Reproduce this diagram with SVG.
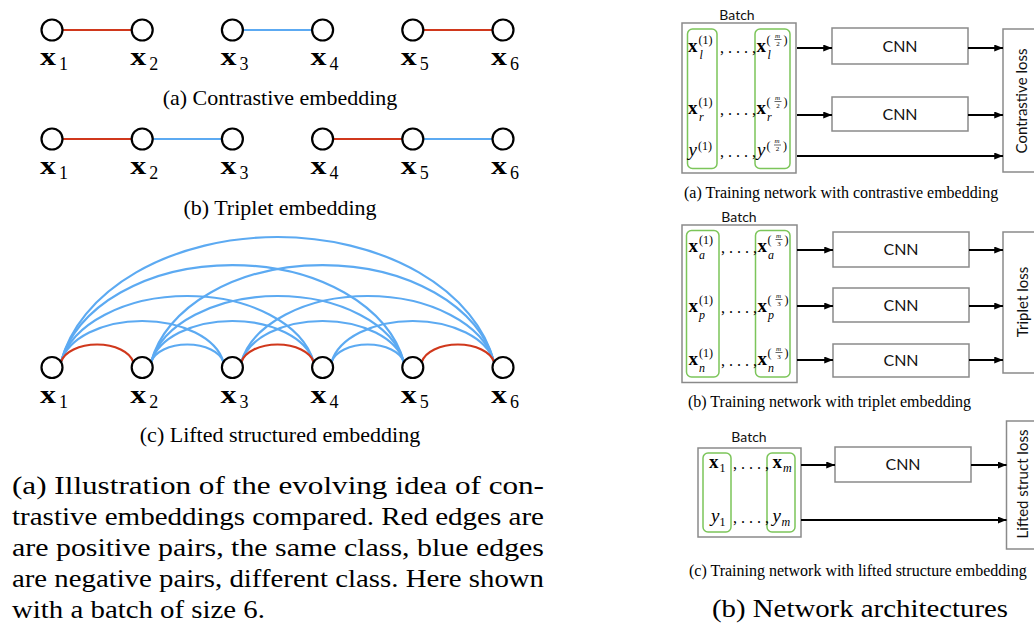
<svg xmlns="http://www.w3.org/2000/svg" width="1034" height="624" viewBox="0 0 1034 624">
  <style>
    .ser { font-family: "Liberation Serif", "Times New Roman", serif; fill: #000; }
    .sans { font-family: Lato, "Open Sans", sans-serif; fill: #111; }
    .cap { font-size: 22px; }
    .capr { font-size: 16px; }
    .cm { font-size: 26px; }
    .bx { font-size: 26px; font-weight: bold; }
    .sd { font-size: 18px; }
    .node circle { fill: #fff; stroke: #000; stroke-width: 2.2; }
    .pos { fill: none; stroke: #d0381c; stroke-width: 2.2; }
    .neg { fill: none; stroke: #5caaf2; stroke-width: 2.2; }
    .gbox { fill: #fff; stroke: #8a8a8a; stroke-width: 1.5; }
    .grp { fill: none; stroke: #7cc55a; stroke-width: 1.5; }
    .arrow { fill: none; stroke: #000; stroke-width: 2; marker-end: url(#ah); }
    .mx { font-size: 19px; font-weight: bold; }
    .mi { font-size: 19px; font-style: italic; }
    .ms { font-size: 12px; }
    .msi { font-size: 12px; font-style: italic; }
    .mf { font-size: 7px; font-style: italic; }
    .mfn { font-size: 7px; }
    .dots { font-size: 16px; }
    .frac { stroke: #000; stroke-width: 0.6; }
    .cnn { font-size: 16px; text-anchor: middle; }
    .batch { font-size: 14px; text-anchor: middle; }
    .loss { font-size: 15px; text-anchor: middle; }
  </style>
  <defs>
    <marker id="ah" viewBox="0 0 10 8" refX="10" refY="4" markerWidth="9" markerHeight="7" markerUnits="userSpaceOnUse" orient="auto">
      <path d="M0,0 L10,4 L0,8 z" fill="#000"/>
    </marker>
  </defs>

  <rect width="1034" height="624" fill="#fff"/>

  <!-- (a) contrastive pairs -->
  <g id="contrastive">
    <g id="contrastive-edges">
      <line class="pos" x1="62.5" y1="30" x2="131.7" y2="30"/>
      <line class="neg" x1="242.9" y1="30" x2="312.1" y2="30"/>
      <line class="pos" x1="423.3" y1="30" x2="492.5" y2="30"/>
    </g>
    <g id="c-x1" class="node"><circle cx="52" cy="30" r="10.5"/><text class="ser bx" x="40" y="65" textLength="16" lengthAdjust="spacingAndGlyphs">x</text><text class="ser sd" x="59" y="70">1</text></g>
    <g id="c-x2" class="node"><circle cx="142.2" cy="30" r="10.5"/><text class="ser bx" x="130.2" y="65" textLength="16" lengthAdjust="spacingAndGlyphs">x</text><text class="ser sd" x="149.2" y="70">2</text></g>
    <g id="c-x3" class="node"><circle cx="232.4" cy="30" r="10.5"/><text class="ser bx" x="220.4" y="65" textLength="16" lengthAdjust="spacingAndGlyphs">x</text><text class="ser sd" x="239.4" y="70">3</text></g>
    <g id="c-x4" class="node"><circle cx="322.6" cy="30" r="10.5"/><text class="ser bx" x="310.6" y="65" textLength="16" lengthAdjust="spacingAndGlyphs">x</text><text class="ser sd" x="329.6" y="70">4</text></g>
    <g id="c-x5" class="node"><circle cx="412.8" cy="30" r="10.5"/><text class="ser bx" x="400.8" y="65" textLength="16" lengthAdjust="spacingAndGlyphs">x</text><text class="ser sd" x="419.8" y="70">5</text></g>
    <g id="c-x6" class="node"><circle cx="503" cy="30" r="10.5"/><text class="ser bx" x="491" y="65" textLength="16" lengthAdjust="spacingAndGlyphs">x</text><text class="ser sd" x="510" y="70">6</text></g>
    <text class="ser cap" x="280" y="105" text-anchor="middle">(a) Contrastive embedding</text>
  </g>

  <!-- (b) triplets -->
  <g id="triplet">
    <g id="triplet-edges">
      <line class="pos" x1="62.5" y1="139" x2="131.7" y2="139"/>
      <line class="neg" x1="152.7" y1="139" x2="221.9" y2="139"/>
      <line class="pos" x1="333.1" y1="139" x2="402.3" y2="139"/>
      <line class="neg" x1="423.3" y1="139" x2="492.5" y2="139"/>
    </g>
    <g id="t-x1" class="node"><circle cx="52" cy="139" r="10.5"/><text class="ser bx" x="40" y="173.5" textLength="16" lengthAdjust="spacingAndGlyphs">x</text><text class="ser sd" x="59" y="178.5">1</text></g>
    <g id="t-x2" class="node"><circle cx="142.2" cy="139" r="10.5"/><text class="ser bx" x="130.2" y="173.5" textLength="16" lengthAdjust="spacingAndGlyphs">x</text><text class="ser sd" x="149.2" y="178.5">2</text></g>
    <g id="t-x3" class="node"><circle cx="232.4" cy="139" r="10.5"/><text class="ser bx" x="220.4" y="173.5" textLength="16" lengthAdjust="spacingAndGlyphs">x</text><text class="ser sd" x="239.4" y="178.5">3</text></g>
    <g id="t-x4" class="node"><circle cx="322.6" cy="139" r="10.5"/><text class="ser bx" x="310.6" y="173.5" textLength="16" lengthAdjust="spacingAndGlyphs">x</text><text class="ser sd" x="329.6" y="178.5">4</text></g>
    <g id="t-x5" class="node"><circle cx="412.8" cy="139" r="10.5"/><text class="ser bx" x="400.8" y="173.5" textLength="16" lengthAdjust="spacingAndGlyphs">x</text><text class="ser sd" x="419.8" y="178.5">5</text></g>
    <g id="t-x6" class="node"><circle cx="503" cy="139" r="10.5"/><text class="ser bx" x="491" y="173.5" textLength="16" lengthAdjust="spacingAndGlyphs">x</text><text class="ser sd" x="510" y="178.5">6</text></g>
    <text class="ser cap" x="280" y="215" text-anchor="middle">(b) Triplet embedding</text>
  </g>

  <!-- (c) lifted structure: every pair in the batch, elliptical arcs -->
  <g id="lifted">
    <g id="lifted-edges">
      <path class="neg" d="M61,362 A82.45,49.61 0 0 1 223.4,362"/>
      <path class="neg" d="M61,362 A128.25,79.86 0 0 1 313.6,362"/>
      <path class="neg" d="M61,362 A174.05,117.37 0 0 1 403.8,362"/>
      <path class="neg" d="M61,362 A219.84,151.25 0 0 1 494,362"/>
      <path class="neg" d="M151.2,362 A36.66,21.18 0 0 1 223.4,362"/>
      <path class="neg" d="M151.2,362 A82.45,49.61 0 0 1 313.6,362"/>
      <path class="neg" d="M151.2,362 A128.25,79.86 0 0 1 403.8,362"/>
      <path class="neg" d="M151.2,362 A174.05,117.37 0 0 1 494,362"/>
      <path class="neg" d="M241.4,362 A82.45,49.61 0 0 1 403.8,362"/>
      <path class="neg" d="M241.4,362 A128.25,79.86 0 0 1 494,362"/>
      <path class="neg" d="M331.6,362 A36.66,21.18 0 0 1 403.8,362"/>
      <path class="neg" d="M331.6,362 A82.45,49.61 0 0 1 494,362"/>
      <path class="pos" d="M61,362 A36.66,21.18 0 0 1 133.2,362"/>
      <path class="pos" d="M241.4,362 A36.66,21.18 0 0 1 313.6,362"/>
      <path class="pos" d="M421.8,362 A36.66,21.18 0 0 1 494,362"/>
    </g>
    <g id="l-x1" class="node"><circle cx="52" cy="367.5" r="10.5"/><text class="ser bx" x="40" y="403" textLength="16" lengthAdjust="spacingAndGlyphs">x</text><text class="ser sd" x="59" y="408">1</text></g>
    <g id="l-x2" class="node"><circle cx="142.2" cy="367.5" r="10.5"/><text class="ser bx" x="130.2" y="403" textLength="16" lengthAdjust="spacingAndGlyphs">x</text><text class="ser sd" x="149.2" y="408">2</text></g>
    <g id="l-x3" class="node"><circle cx="232.4" cy="367.5" r="10.5"/><text class="ser bx" x="220.4" y="403" textLength="16" lengthAdjust="spacingAndGlyphs">x</text><text class="ser sd" x="239.4" y="408">3</text></g>
    <g id="l-x4" class="node"><circle cx="322.6" cy="367.5" r="10.5"/><text class="ser bx" x="310.6" y="403" textLength="16" lengthAdjust="spacingAndGlyphs">x</text><text class="ser sd" x="329.6" y="408">4</text></g>
    <g id="l-x5" class="node"><circle cx="412.8" cy="367.5" r="10.5"/><text class="ser bx" x="400.8" y="403" textLength="16" lengthAdjust="spacingAndGlyphs">x</text><text class="ser sd" x="419.8" y="408">5</text></g>
    <g id="l-x6" class="node"><circle cx="503" cy="367.5" r="10.5"/><text class="ser bx" x="491" y="403" textLength="16" lengthAdjust="spacingAndGlyphs">x</text><text class="ser sd" x="510" y="408">6</text></g>
    <text class="ser cap" x="280" y="442" text-anchor="middle">(c) Lifted structured embedding</text>
  </g>

  <!-- left caption, justified lines -->
  <g id="caption-left" class="ser cm">
    <text x="12" y="493.5" textLength="532" lengthAdjust="spacingAndGlyphs">(a) Illustration of the evolving idea of con-</text>
    <text x="12" y="524.5" textLength="532" lengthAdjust="spacingAndGlyphs">trastive embeddings compared. Red edges are</text>
    <text x="12" y="555.5" textLength="532" lengthAdjust="spacingAndGlyphs">are positive pairs, the same class, blue edges</text>
    <text x="12" y="586.5" textLength="532" lengthAdjust="spacingAndGlyphs">are negative pairs, different class. Here shown</text>
    <text x="12" y="617.5" textLength="253" lengthAdjust="spacingAndGlyphs">with a batch of size 6.</text>
  </g>

  <!-- ===== network: contrastive ===== -->
  <g id="net-contrastive">
    <g id="nc-batch">
      <text class="sans batch" x="737" y="20">Batch</text>
      <rect class="gbox" x="682" y="23" width="114" height="150"/>
      <rect class="grp" x="687.5" y="29" width="29.5" height="139.5" rx="5"/>
      <rect class="grp" x="755" y="29" width="35" height="139.5" rx="5"/>
      <g class="ser">
        <text class="mx" x="688" y="52">x</text><text class="ms" x="698.5" y="44">(1)</text><text class="msi" x="699.5" y="58.5">l</text>
        <text class="dots" x="720" y="53">, . . . ,</text>
        <text class="mx" x="756.5" y="52">x</text><text class="ms" x="766.5" y="44">(</text><text class="mf" x="775" y="37.5">m</text><line class="frac" x1="774.5" y1="39.5" x2="781.5" y2="39.5"/><text class="mfn" x="776.3" y="45.5">2</text><text class="ms" x="783.5" y="44">)</text><text class="msi" x="767.5" y="58.5">l</text>

        <text class="mx" x="688" y="114">x</text><text class="ms" x="698.5" y="106">(1)</text><text class="msi" x="699" y="120.5">r</text>
        <text class="dots" x="720" y="115">, . . . ,</text>
        <text class="mx" x="756.5" y="114">x</text><text class="ms" x="766.5" y="106">(</text><text class="mf" x="775" y="99.5">m</text><line class="frac" x1="774.5" y1="101.5" x2="781.5" y2="101.5"/><text class="mfn" x="776.3" y="107.5">2</text><text class="ms" x="783.5" y="106">)</text><text class="msi" x="767" y="120.5">r</text>

        <text class="mi" x="688.5" y="156">y</text><text class="ms" x="698" y="150">(1)</text>
        <text class="dots" x="720" y="157">, . . . ,</text>
        <text class="mi" x="757" y="156">y</text><text class="ms" x="766.5" y="150">(</text><text class="mf" x="774.5" y="143">m</text><line class="frac" x1="774" y1="145" x2="781" y2="145"/><text class="mfn" x="775.8" y="151">2</text><text class="ms" x="783" y="150">)</text>
      </g>
    </g>
    <g id="nc-cnn1"><rect class="gbox" x="832" y="28" width="136" height="36"/><text class="sans cnn" x="900" y="51.7">CNN</text></g>
    <g id="nc-cnn2"><rect class="gbox" x="832" y="97" width="136" height="34"/><text class="sans cnn" x="900" y="119.7">CNN</text></g>
    <g id="nc-loss"><rect class="gbox" x="1003" y="29" width="40" height="143"/><text class="sans loss" transform="translate(1027,101) rotate(-90)">Contrastive loss</text></g>
    <g id="nc-connectors">
      <line class="arrow" x1="797" y1="48" x2="832" y2="48"/>
      <line class="arrow" x1="968" y1="48" x2="1003" y2="48"/>
      <line class="arrow" x1="797" y1="115" x2="832" y2="115"/>
      <line class="arrow" x1="968" y1="115" x2="1003" y2="115"/>
      <line class="arrow" x1="797" y1="156" x2="1003" y2="156"/>
    </g>
    <text class="ser capr" x="684" y="197.5">(a) Training network with contrastive embedding</text>
  </g>

  <!-- ===== network: triplet ===== -->
  <g id="net-triplet">
    <g id="nt-batch">
      <text class="sans batch" x="739" y="222">Batch</text>
      <rect class="gbox" x="682" y="225" width="115" height="157.5"/>
      <rect class="grp" x="686.5" y="230.5" width="32.5" height="146.5" rx="5"/>
      <rect class="grp" x="755.5" y="230.5" width="34.5" height="146.5" rx="5"/>
      <g class="ser">
        <text class="mx" x="688.5" y="252">x</text><text class="ms" x="699" y="244">(1)</text><text class="msi" x="699" y="258.5">a</text>
        <text class="dots" x="721" y="253">, . . . ,</text>
        <text class="mx" x="757.5" y="252">x</text><text class="ms" x="767.5" y="244">(</text><text class="mf" x="776" y="237.5">m</text><line class="frac" x1="775.5" y1="239.5" x2="782.5" y2="239.5"/><text class="mfn" x="777.3" y="245.5">3</text><text class="ms" x="784.5" y="244">)</text><text class="msi" x="768" y="258.5">a</text>

        <text class="mx" x="688.5" y="312">x</text><text class="ms" x="699" y="304">(1)</text><text class="msi" x="699" y="318.5">p</text>
        <text class="dots" x="721" y="313">, . . . ,</text>
        <text class="mx" x="757.5" y="312">x</text><text class="ms" x="767.5" y="304">(</text><text class="mf" x="776" y="297.5">m</text><line class="frac" x1="775.5" y1="299.5" x2="782.5" y2="299.5"/><text class="mfn" x="777.3" y="305.5">3</text><text class="ms" x="784.5" y="304">)</text><text class="msi" x="768" y="318.5">p</text>

        <text class="mx" x="688.5" y="365">x</text><text class="ms" x="699" y="357">(1)</text><text class="msi" x="699" y="371.5">n</text>
        <text class="dots" x="721" y="366">, . . . ,</text>
        <text class="mx" x="757.5" y="365">x</text><text class="ms" x="767.5" y="357">(</text><text class="mf" x="776" y="350.5">m</text><line class="frac" x1="775.5" y1="352.5" x2="782.5" y2="352.5"/><text class="mfn" x="777.3" y="358.5">3</text><text class="ms" x="784.5" y="357">)</text><text class="msi" x="768" y="371.5">n</text>
      </g>
    </g>
    <g id="nt-cnn1"><rect class="gbox" x="833" y="232" width="136" height="35"/><text class="sans cnn" x="901" y="255.2">CNN</text></g>
    <g id="nt-cnn2"><rect class="gbox" x="833" y="288" width="136" height="34"/><text class="sans cnn" x="901" y="310.7">CNN</text></g>
    <g id="nt-cnn3"><rect class="gbox" x="833" y="344" width="136" height="33"/><text class="sans cnn" x="901" y="366.2">CNN</text></g>
    <g id="nt-loss"><rect class="gbox" x="1003" y="232" width="40" height="141"/><text class="sans loss" transform="translate(1028,302) rotate(-90)">Triplet loss</text></g>
    <g id="nt-connectors">
      <line class="arrow" x1="797" y1="250" x2="833" y2="250"/>
      <line class="arrow" x1="969" y1="250" x2="1003" y2="250"/>
      <line class="arrow" x1="797" y1="306" x2="833" y2="306"/>
      <line class="arrow" x1="969" y1="306" x2="1003" y2="306"/>
      <line class="arrow" x1="797" y1="360" x2="833" y2="360"/>
      <line class="arrow" x1="969" y1="360" x2="1003" y2="360"/>
    </g>
    <text class="ser capr" x="688" y="406.5">(b) Training network with triplet embedding</text>
  </g>

  <!-- ===== network: lifted structure ===== -->
  <g id="net-lifted">
    <g id="nl-batch">
      <text class="sans batch" x="749" y="442">Batch</text>
      <rect class="gbox" x="698" y="448" width="103" height="89"/>
      <rect class="grp" x="703" y="453" width="28" height="79" rx="5"/>
      <rect class="grp" x="767" y="453" width="28" height="79" rx="5"/>
      <g class="ser">
        <text class="mx" x="709" y="468">x</text><text class="ms" x="719.5" y="472">1</text>
        <text class="dots" x="733" y="469">, . . . ,</text>
        <text class="mx" x="772.5" y="468">x</text><text class="msi" x="783" y="472">m</text>
        <text class="mi" x="711" y="522">y</text><text class="ms" x="719.5" y="526">1</text>
        <text class="dots" x="733" y="523">, . . . ,</text>
        <text class="mi" x="772.5" y="522">y</text><text class="msi" x="781.5" y="526">m</text>
      </g>
    </g>
    <g id="nl-cnn"><rect class="gbox" x="835" y="447" width="136" height="35"/><text class="sans cnn" x="903" y="470.2">CNN</text></g>
    <g id="nl-loss"><rect class="gbox" x="1006.5" y="421" width="40" height="128"/><text class="sans loss" transform="translate(1027.5,484) rotate(-90)">Lifted struct loss</text></g>
    <g id="nl-connectors">
      <line class="arrow" x1="801" y1="465" x2="835" y2="465"/>
      <line class="arrow" x1="971" y1="465" x2="1006.5" y2="465"/>
      <line class="arrow" x1="801" y1="520" x2="1006.5" y2="520"/>
    </g>
    <text class="ser capr" x="689" y="575.5">(c) Training network with lifted structure embedding</text>
  </g>

  <text class="ser cm" x="712" y="617" textLength="296" lengthAdjust="spacingAndGlyphs">(b) Network architectures</text>
</svg>
